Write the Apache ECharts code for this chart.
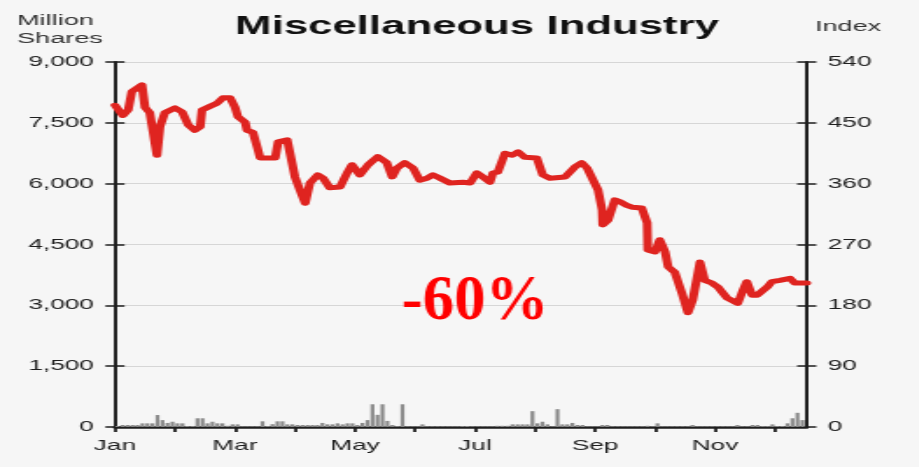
<!DOCTYPE html>
<html>
<head>
<meta charset="utf-8">
<script src="https://cdn.jsdelivr.net/npm/echarts@6/dist/echarts.min.js"></script>
<style>
  html, body { margin: 0; padding: 0; background: #f6f6f6; overflow: hidden; }
  /* the source picture is stretched sideways, so the chart is drawn narrow and scaled */
  #chart { width: 525.14px; height: 467px; transform: scaleX(1.75); transform-origin: 0 0; }
</style>
</head>
<body>
<div id="chart"></div>
<script>
  const SX = 1.75;

  // month ticks (x in months from Jan 1)
  const monthTicks = [0, 1, 2, 3, 4, 5, 6, 7, 8, 9, 10, 11];
  const monthLabels = ['Jan', '', 'Mar', '', 'May', '', 'Jul', '', 'Sep', '', 'Nov', ''];
  const xMax = 11.53;

  // index line (right axis)
  const indexMonths = [0.00, 0.13, 0.22, 0.28, 0.45, 0.50, 0.58, 0.63, 0.70, 0.75,
    0.83, 1.00, 1.12, 1.22, 1.33, 1.42, 1.45, 1.55, 1.70, 1.80,
    1.92, 2.00, 2.05, 2.17, 2.20, 2.30, 2.37, 2.42, 2.58, 2.67,
    2.72, 2.87, 3.00, 3.08, 3.17, 3.25, 3.38, 3.47, 3.58, 3.75,
    3.87, 3.95, 4.08, 4.22, 4.38, 4.53, 4.62, 4.70, 4.83, 4.97,
    5.08, 5.20, 5.30, 5.42, 5.58, 5.80, 5.92, 6.03, 6.13, 6.25,
    6.30, 6.38, 6.50, 6.62, 6.72, 6.83, 7.03, 7.13, 7.25, 7.50,
    7.67, 7.78, 7.87, 7.97, 8.05, 8.12, 8.13, 8.22, 8.33, 8.42,
    8.53, 8.63, 8.78, 8.87, 8.88, 9.00, 9.08, 9.17, 9.22, 9.33,
    9.45, 9.55, 9.63, 9.75, 9.83, 9.95, 10.05, 10.20, 10.38, 10.47,
    10.53, 10.62, 10.70, 10.87, 10.95, 11.08, 11.25, 11.33, 11.53];
  const indexValues = [476, 461, 469, 496, 506, 473, 465, 465, 402, 444,
    465, 472, 466, 447, 439, 444, 469, 473, 479, 487,
    487, 473, 459, 451, 439, 436, 414, 398, 398, 398,
    422, 425, 370, 351, 331, 361, 373, 368, 354, 355,
    376, 388, 373, 388, 400, 391, 370, 383, 391, 383,
    365, 368, 373, 368, 361, 362, 361, 376, 370, 362,
    376, 377, 405, 402, 407, 399, 398, 373, 368, 370,
    385, 391, 383, 365, 351, 321, 299, 306, 336, 333,
    328, 325, 324, 302, 262, 259, 277, 259, 237, 229,
    198, 169, 188, 244, 217, 213, 207, 191, 183, 203,
    215, 195, 195, 207, 215, 217, 220, 213, 213];

  // volume bars (left axis, million shares), one every 1/12 month
  const volStep = 1 / 12;
  const volumes = [25, 50, 50, 50, 50, 90, 90, 90, 295, 170,
    100, 130, 90, 90, 25, 25, 215, 215, 90, 130,
    90, 90, 30, 65, 65, 15, 15, 15, 15, 140,
    25, 70, 140, 140, 65, 65, 50, 50, 50, 50,
    50, 100, 65, 65, 90, 65, 90, 90, 50, 100,
    170, 560, 300, 560, 150, 50, 20, 560, 15, 15,
    15, 65, 15, 15, 15, 15, 15, 15, 15, 25,
    25, 15, 15, 15, 15, 15, 30, 30, 30, 65,
    65, 65, 65, 390, 90, 130, 65, 15, 440, 65,
    65, 100, 50, 50, 15, 15, 15, 50, 50, 15,
    15, 15, 15, 15, 15, 15, 30, 15, 90, 15,
    15, 15, 15, 15, 15, 50, 15, 15, 15, 15,
    15, 15, 15, 15, 50, 15, 15, 50, 50, 25,
    25, 65, 25, 25, 90, 215, 350, 170];

  const font = 'Liberation Sans, Arial, sans-serif';
  const ink = '#1e1e1e';

  const chart = echarts.init(document.getElementById('chart'), null, { renderer: 'canvas' });

  const lineData = indexMonths.map((m, i) => [m, indexValues[i]]);
  const volData = volumes.map((v, i) => [(i + 0.5) * volStep, v]);

  // one axis draws the outside ticks and labels, its twin the inside ticks
  function yAxisPair(pos, max, interval, fmt) {
    return [{
      type: 'value', position: pos, min: 0, max: max, interval: interval,
      axisLine: { show: true, lineStyle: { color: ink, width: 2 } },
      axisTick: { show: true, length: 5.5, lineStyle: { color: ink, width: 1.5 } },
      axisLabel: { margin: 12, color: ink, fontSize: 15, fontFamily: font, formatter: fmt },
      splitLine: { show: pos === 'left', lineStyle: { color: '#d6d6d6', width: 1 } }
    }, {
      type: 'value', position: pos, min: 0, max: max, interval: interval,
      axisLine: { show: false },
      axisTick: { show: true, inside: true, length: 5.5, lineStyle: { color: ink, width: 1.5 } },
      axisLabel: { show: false },
      splitLine: { show: false }
    }];
  }

  const option = {
    backgroundColor: '#f6f6f6',
    animation: false,
    grid: { left: 65.7, right: 64.0, top: 62, bottom: 40 },
    xAxis: {
      type: 'value', min: 0, max: xMax, interval: 1,
      axisLine: { show: true, onZero: false, lineStyle: { color: ink, width: 2.5 } },
      axisTick: { show: true, length: 5, customValues: monthTicks, lineStyle: { color: ink, width: 1.8 } },
      axisLabel: {
        customValues: monthTicks, margin: 11, color: ink, fontSize: 15, fontFamily: font,
        formatter: v => monthLabels[Math.round(v)] || ''
      },
      splitLine: { show: false }
    },
    yAxis: [
      ...yAxisPair('left', 9000, 1500, v => v.toLocaleString('en-US')),
      ...yAxisPair('right', 540, 90, v => String(v))
    ],
    series: [{
      name: 'Volume', type: 'bar', yAxisIndex: 0, data: volData,
      barWidth: 2.2, itemStyle: { color: '#8a8a8a' }, z: 2
    }, {
      name: 'Index', type: 'line', yAxisIndex: 2, data: lineData,
      showSymbol: false, smooth: false,
      lineStyle: { color: '#df2420', width: 5, join: 'round', cap: 'round' }, z: 3
    }],
    graphic: [
      { type: 'text', x: 9.7, y: 20.5, style: { text: 'Million', font: '15.5px ' + font, fill: '#333', textVerticalAlign: 'middle' } },
      { type: 'text', x: 9.7, y: 39, style: { text: 'Shares', font: '15.5px ' + font, fill: '#333', textVerticalAlign: 'middle' } },
      { type: 'text', x: 484.6, y: 27, style: { text: 'Index', font: '15.5px ' + font, fill: '#333', textAlign: 'center', textVerticalAlign: 'middle' } },
      { type: 'text', x: 272.6, y: 27.5, style: { text: 'Miscellaneous Industry', font: 'bold 25px ' + font, fill: '#111', textAlign: 'center', textVerticalAlign: 'middle' } },
      // the annotation was not stretched: undo the sideways scale
      { type: 'text', x: 475 / SX, y: 303, scaleX: 1 / SX, z: 10,
        style: { text: '-60%', font: 'bold 63px Liberation Serif, Times New Roman, serif', fill: '#ff0000', textAlign: 'center', textVerticalAlign: 'middle' } }
    ]
  };

  chart.setOption(option);
</script>
</body>
</html>
